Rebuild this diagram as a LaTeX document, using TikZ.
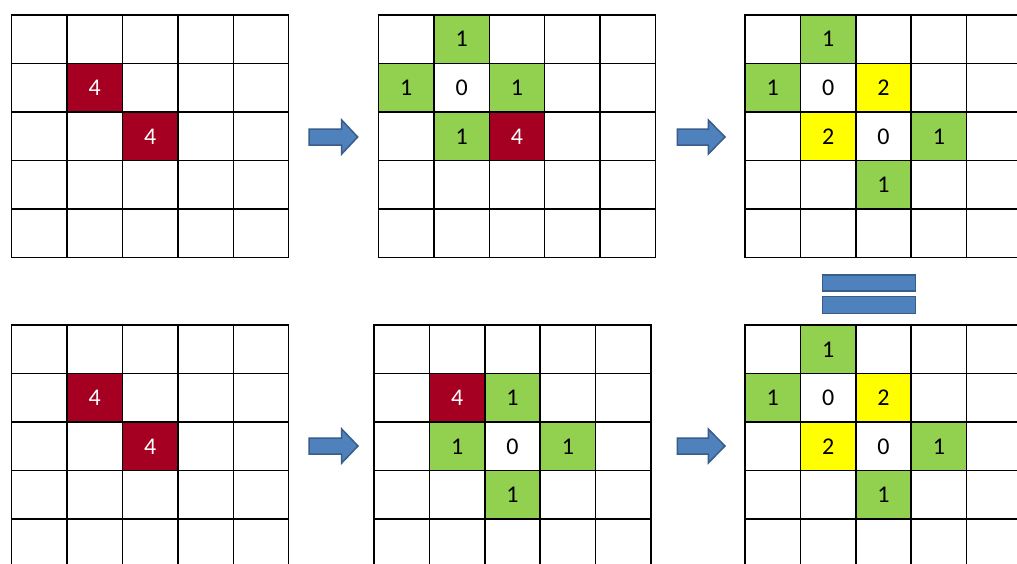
\documentclass[tikz,border=0pt]{standalone}
\usepackage{fontspec}
\setmainfont{Carlito}
\usetikzlibrary{calc}
\definecolor{cellred}{HTML}{A50021}
\definecolor{cellgreen}{HTML}{92D050}
\definecolor{cellyellow}{HTML}{FFFF00}
\definecolor{arrowblue}{HTML}{4F81BD}
\definecolor{arrowedge}{HTML}{385D8A}
\tikzset{
  cellbox/.style={minimum width=55.4pt, minimum height=48.54pt, inner sep=0pt, outer sep=0pt, anchor=center, font=\fontsize{24}{24}\selectfont},
  redcell/.style={cellbox, fill=cellred, text=white},
  greencell/.style={cellbox, fill=cellgreen},
  yellowcell/.style={cellbox, fill=cellyellow},
  whitecell/.style={cellbox},
  gridline/.style={line width=1.5pt, black, line cap=rect},
  blockarrow/.style={fill=arrowblue, draw=arrowedge, line width=1.5pt, line join=miter},
}
\newcommand\mkcell[5]{\node[#4] (#1-#2-#3) at ($(#1)+({55.4*#2+27.7},{48.54*#3+24.27})$) {#5};}
\newcommand\mkgrid[1]{%
  \foreach \i in {0,...,5} {\draw[gridline] ($(#1)+({55.4*\i},0)$) -- ++(0,242.7);}
  \foreach \j in {0,...,5} {\draw[gridline] ($(#1)+(0,{48.54*\j})$) -- ++(277,0);}
}
\begin{document}
\begin{tikzpicture}[x=1pt,y=-1pt]
  \useasboundingbox (0,0) rectangle (1017,563);
  \clip (0,0) rectangle (1017,563);
  \fill[white] (0,0) rectangle (1017,563);
  \coordinate (ga) at (11.7,15);
  \coordinate (gb) at (378.5,15);
  \coordinate (gc) at (745,15);
  \coordinate (gd) at (11.7,325);
  \coordinate (ge) at (374,325);
  \coordinate (gf) at (745,325);
  % grid a
  \mkcell{ga}{1}{1}{redcell}{4}
  \mkcell{ga}{2}{2}{redcell}{4}
  \mkgrid{ga}
  % grid b
  \mkcell{gb}{1}{0}{greencell}{1}
  \mkcell{gb}{0}{1}{greencell}{1}
  \mkcell{gb}{1}{1}{whitecell}{0}
  \mkcell{gb}{2}{1}{greencell}{1}
  \mkcell{gb}{1}{2}{greencell}{1}
  \mkcell{gb}{2}{2}{redcell}{4}
  \mkgrid{gb}
  % grid c
  \mkcell{gc}{1}{0}{greencell}{1}
  \mkcell{gc}{0}{1}{greencell}{1}
  \mkcell{gc}{1}{1}{whitecell}{0}
  \mkcell{gc}{2}{1}{yellowcell}{2}
  \mkcell{gc}{1}{2}{yellowcell}{2}
  \mkcell{gc}{2}{2}{whitecell}{0}
  \mkcell{gc}{3}{2}{greencell}{1}
  \mkcell{gc}{2}{3}{greencell}{1}
  \mkgrid{gc}
  % grid d
  \mkcell{gd}{1}{1}{redcell}{4}
  \mkcell{gd}{2}{2}{redcell}{4}
  \mkgrid{gd}
  % grid e
  \mkcell{ge}{1}{1}{redcell}{4}
  \mkcell{ge}{2}{1}{greencell}{1}
  \mkcell{ge}{1}{2}{greencell}{1}
  \mkcell{ge}{2}{2}{whitecell}{0}
  \mkcell{ge}{3}{2}{greencell}{1}
  \mkcell{ge}{2}{3}{greencell}{1}
  \mkgrid{ge}
  % grid f
  \mkcell{gf}{1}{0}{greencell}{1}
  \mkcell{gf}{0}{1}{greencell}{1}
  \mkcell{gf}{1}{1}{whitecell}{0}
  \mkcell{gf}{2}{1}{yellowcell}{2}
  \mkcell{gf}{1}{2}{yellowcell}{2}
  \mkcell{gf}{2}{2}{whitecell}{0}
  \mkcell{gf}{3}{2}{greencell}{1}
  \mkcell{gf}{2}{3}{greencell}{1}
  \mkgrid{gf}
  % block arrows
  \draw[blockarrow] (309,129) -- (341.7,129) -- (341.7,120) -- (357.7,137) -- (341.7,154) -- (341.7,145) -- (309,145) -- cycle;
  \draw[blockarrow] (677.3,129) -- (708.3,129) -- (708.3,120) -- (725,137) -- (708.3,154) -- (708.3,145) -- (677.3,145) -- cycle;
  \draw[blockarrow] (309,438) -- (341.7,438) -- (341.7,429) -- (358,446) -- (341.7,463) -- (341.7,454) -- (309,454) -- cycle;
  \draw[blockarrow] (677.3,438) -- (708.3,438) -- (708.3,429) -- (725,446) -- (708.3,463) -- (708.3,454) -- (677.3,454) -- cycle;
  % equals sign
  \draw[blockarrow] (822.3,275) rectangle (915.7,291);
  \draw[blockarrow] (822.3,296.7) rectangle (915.7,313.3);
\end{tikzpicture}
\end{document}
